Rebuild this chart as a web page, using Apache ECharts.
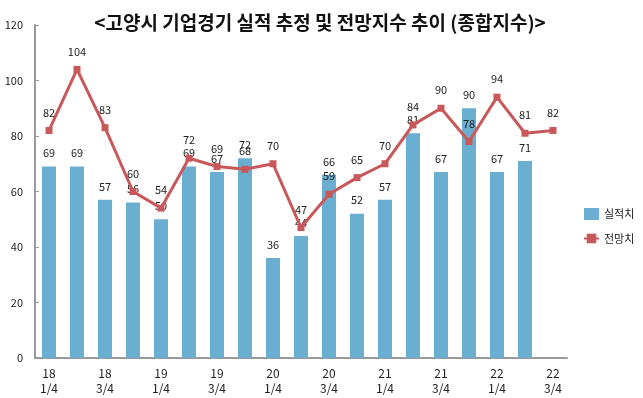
<!DOCTYPE html>
<html>
<head>
<meta charset="utf-8">
<script src="https://cdn.jsdelivr.net/npm/echarts@6/dist/echarts.min.js"></script>
<style>
  html, body { margin: 0; padding: 0; background: #fff; }
  #chart { width: 643px; height: 398px; }
</style>
</head>
<body>
<div id="chart"></div>
<script>
const categories = [
  '18\n1/4', '18\n2/4', '18\n3/4', '18\n4/4',
  '19\n1/4', '19\n2/4', '19\n3/4', '19\n4/4',
  '20\n1/4', '20\n2/4', '20\n3/4', '20\n4/4',
  '21\n1/4', '21\n2/4', '21\n3/4', '21\n4/4',
  '22\n1/4', '22\n2/4', '22\n3/4'
];
const actual = [69, 69, 57, 56, 50, 69, 67, 72, 36, 44, 66, 52, 57, 81, 67, 90, 67, 71, null];
const forecast = [82, 104, 83, 60, 54, 72, 69, 68, 70, 47, 59, 65, 70, 84, 90, 78, 94, 81, 82];
const yTicks = [0, 20, 40, 60, 80, 100, 120];

const font = '"Noto Sans CJK KR", "Noto Sans", sans-serif';
const myChart = echarts.init(document.getElementById('chart'));
const option = {
  animation: false,
  textStyle: { fontFamily: font },
  title: {
    text: '<고양시 기업경기 실적 추정 및 전망지수 추이 (종합지수)>',
    left: 315,
    textAlign: 'center',
    top: 8,
    textStyle: { fontSize: 19, fontWeight: 'bold', color: '#111', fontFamily: font }
  },
  legend: {
    orient: 'vertical',
    left: 583,
    top: 208,
    padding: 0,
    itemGap: 13,
    itemWidth: 15,
    itemHeight: 12,
    textStyle: { fontSize: 11, color: '#222' },
    data: [
      { name: '실적치', icon: 'rect' },
      { name: '전망치' }
    ]
  },
  grid: { left: 35, right: 76, top: 25, bottom: 40 },
  xAxis: {
    type: 'category',
    data: categories,
    axisLine: { lineStyle: { color: '#999', width: 2 } },
    axisTick: { show: false },
    axisLabel: { interval: 1, color: '#222', fontSize: 12, lineHeight: 15, margin: 8 }
  },
  yAxis: {
    type: 'value',
    min: yTicks[0],
    max: yTicks[yTicks.length - 1],
    interval: 20,
    splitLine: { show: false },
    axisLine: { show: true, lineStyle: { color: '#999', width: 2 } },
    axisTick: { show: true, length: 4, inside: true, lineStyle: { color: '#999' } },
    axisLabel: { color: '#222', fontSize: 11, margin: 12 }
  },
  series: [
    {
      name: '실적치',
      type: 'bar',
      data: actual,
      barWidth: '50%',
      itemStyle: { color: '#6aaed1' },
      label: { show: true, position: 'top', distance: 8, color: '#222', fontSize: 11 }
    },
    {
      name: '전망치',
      type: 'line',
      data: forecast,
      symbol: 'rect',
      symbolSize: 7,
      lineStyle: { color: '#c9585a', width: 3 },
      itemStyle: { color: '#c9585a' },
      label: { show: true, position: 'top', distance: 9, color: '#222', fontSize: 11 }
    }
  ]
};
myChart.setOption(option);
window.onresize = function() {
  myChart.resize();
};
</script>
</body>
</html>
